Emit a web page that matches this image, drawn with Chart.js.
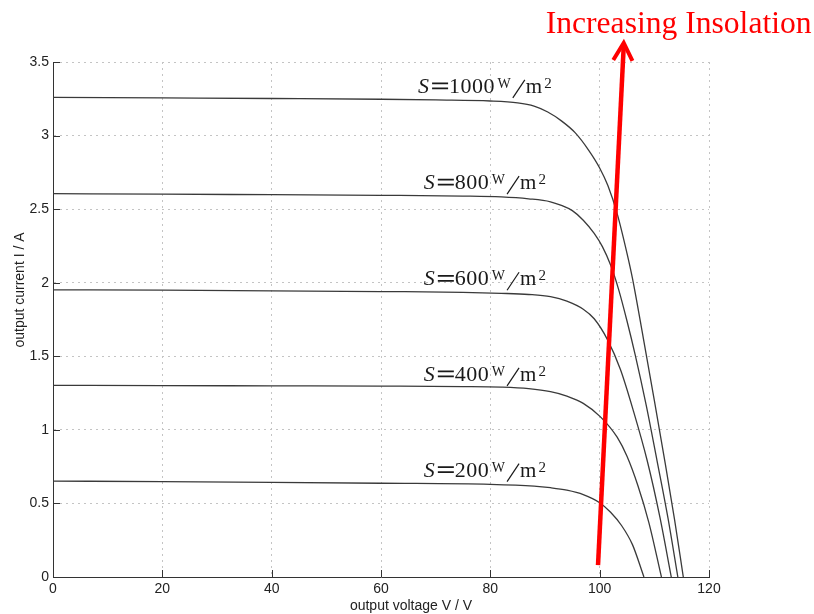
<!DOCTYPE html>
<html>
<head>
<meta charset="utf-8">
<script src="https://cdn.jsdelivr.net/npm/chart.js@4.4.1/dist/chart.umd.min.js"></script>
<style>
  html, body { margin:0; padding:0; background:#fff; }
  #wrap { width:814px; height:614px; }
</style>
</head>
<body>
<div id="wrap"><canvas id="ivChart" width="814" height="614"></canvas></div>
<script>
'use strict';

// irradiance levels, one curve each
const irradiance = [1000, 800, 600, 400, 200];

// voltage (V) / current (A) points
const v1000 = [0, 20, 40, 60, 70, 80, 85, 88, 90.5, 93, 95.5, 98, 100, 101.5, 103.2, 105, 106, 108, 110, 112, 113.7, 115.3];
const i1000 = [3.26, 3.256, 3.252, 3.247, 3.242, 3.235, 3.222, 3.2, 3.16, 3.1, 3.02, 2.9, 2.78, 2.66, 2.47, 2.2, 2.03, 1.62, 1.2, 0.77, 0.39, 0];

const v800 = [0, 20, 40, 60, 75, 82, 87, 91, 93, 95, 97, 99, 100.5, 102, 103.5, 105, 106.5, 108.5, 110.5, 112.5, 114.3];
const i800 = [2.605, 2.602, 2.598, 2.594, 2.589, 2.583, 2.57, 2.55, 2.525, 2.49, 2.425, 2.335, 2.245, 2.12, 1.95, 1.74, 1.51, 1.17, 0.79, 0.4, 0];

const v600 = [0, 20, 40, 60, 75, 82, 87, 91, 94, 97, 99, 101.4, 103.8, 106.2, 108.7, 111, 113.1];
const i600 = [1.952, 1.949, 1.945, 1.94, 1.935, 1.928, 1.92, 1.905, 1.875, 1.82, 1.755, 1.615, 1.41, 1.125, 0.79, 0.41, 0];

const v400 = [0, 20, 40, 60, 75, 82, 87, 91, 94, 97, 100.1, 103.2, 105, 107, 109, 111.3];
const i400 = [1.302, 1.301, 1.299, 1.297, 1.294, 1.29, 1.28, 1.26, 1.23, 1.18, 1.09, 0.95, 0.82, 0.62, 0.37, 0];

const v200 = [0, 20, 40, 60, 80, 88, 91, 94, 97, 100, 102, 104, 106, 108.1];
const i200 = [0.652, 0.648, 0.643, 0.637, 0.63, 0.618, 0.607, 0.59, 0.56, 0.505, 0.44, 0.35, 0.22, 0];

const voltages = [v1000, v800, v600, v400, v200];
const currents = [i1000, i800, i600, i400, i200];

// axis ticks
const xTickLabels = ['0', '20', '40', '60', '80', '100', '120'];
const yTickLabels = ['0', '0.5', '1', '1.5', '2', '2.5', '3', '3.5'];

// red arrow, in data units (V, A)
const arrowFrom = [99.7, 0.08];
const arrowTo = [104.4, 3.63];
const arrowText = 'Increasing Insolation';

const SANS = '"Liberation Sans", Arial, sans-serif';
const SERIF = '"Liberation Serif", "Times New Roman", serif';

const datasets = voltages.map((vs, k) => ({
  label: 'S=' + irradiance[k],
  data: vs.map((v, j) => ({ x: v, y: currents[k][j] })),
  borderColor: '#3a3a3a',
  borderWidth: 1.3,
  pointRadius: 0,
  cubicInterpolationMode: 'monotone',
  fill: false,
}));

// "S=1000 W/m2" in a LaTeX-ish look
function drawCurveLabel(ctx, cx, baseline, value) {
  const digits = String(value).split('');
  const F = (s, it) => (it ? 'italic ' : '') + s + 'px ' + SERIF;
  const pieces = [
    { t: 'S', f: F(22, true), dy: 0, gap: 2 },
    { eq: true, w: 17, gap: 1 },
  ];
  digits.forEach((d, i) => pieces.push({ t: d, f: F(22), dy: 0, gap: i < digits.length - 1 ? 0.5 : 3 }));
  pieces.push({ t: 'W', f: F(14), dy: -5, gap: 1 });
  pieces.push({ slash: true, w: 13, gap: 1 });
  pieces.push({ t: 'm', f: F(21), dy: 0, gap: 2 });
  pieces.push({ t: '2', f: F(15), dy: -5, gap: 0 });

  let total = 0;
  pieces.forEach(p => {
    if (p.t) { ctx.font = p.f; p.w = ctx.measureText(p.t).width; }
    total += p.w + p.gap;
  });
  let x = cx - total / 2;
  ctx.fillStyle = '#1a1a1a';
  ctx.strokeStyle = '#1a1a1a';
  ctx.textAlign = 'left';
  ctx.textBaseline = 'alphabetic';
  pieces.forEach(p => {
    if (p.slash) {
      ctx.lineWidth = 1.2;
      ctx.beginPath();
      ctx.moveTo(x + 1, baseline + 5);
      ctx.lineTo(x + p.w, baseline - 13);
      ctx.stroke();
    } else if (p.eq) {
      ctx.lineWidth = 1.7;
      ctx.beginPath();
      ctx.moveTo(x + 1, baseline - 9.5); ctx.lineTo(x + p.w, baseline - 9.5);
      ctx.moveTo(x + 1, baseline - 4.5); ctx.lineTo(x + p.w, baseline - 4.5);
      ctx.stroke();
    } else {
      ctx.font = p.f;
      ctx.fillText(p.t, x, baseline + p.dy);
    }
    x += p.w + p.gap;
  });
}

const decorations = {
  id: 'decorations',
  afterDraw(chart) {
    const { ctx, chartArea: ca, scales: { x, y } } = chart;
    ctx.save();

    // inward tick marks, MATLAB style
    ctx.strokeStyle = '#333';
    ctx.lineWidth = 1;
    ctx.beginPath();
    x.ticks.forEach(t => {
      const px = Math.round(x.getPixelForValue(t.value)) + 0.5;
      ctx.moveTo(px, ca.bottom); ctx.lineTo(px, ca.bottom - 7);
    });
    y.ticks.forEach(t => {
      const py = Math.round(y.getPixelForValue(t.value)) + 0.5;
      ctx.moveTo(ca.left, py); ctx.lineTo(ca.left + 7, py);
    });
    ctx.stroke();

    // curve labels
    irradiance.forEach((s, k) => {
      const base = y.getPixelForValue(currents[k][0]) - 4.5;
      drawCurveLabel(ctx, x.getPixelForValue(79), base, s);
    });

    // axis titles
    ctx.fillStyle = '#222';
    ctx.font = '14px ' + SANS;
    ctx.textAlign = 'center';
    ctx.textBaseline = 'middle';
    ctx.fillText('output voltage V / V', 411, 606);
    ctx.save();
    ctx.translate(20, 290);
    ctx.rotate(-Math.PI / 2);
    ctx.fillText('output current I / A', 0, 0);
    ctx.restore();

    // red arrow
    const x0 = x.getPixelForValue(arrowFrom[0]), y0 = y.getPixelForValue(arrowFrom[1]);
    const x1 = x.getPixelForValue(arrowTo[0]), y1 = y.getPixelForValue(arrowTo[1]);
    ctx.strokeStyle = '#ff0000';
    ctx.lineWidth = 4.5;
    ctx.lineCap = 'butt';
    ctx.beginPath();
    ctx.moveTo(x0, y0); ctx.lineTo(x1, y1 + 3);
    ctx.stroke();
    const ang = Math.atan2(y1 - y0, x1 - x0);
    ctx.lineWidth = 4;
    ctx.lineJoin = 'miter';
    ctx.beginPath();
    ctx.moveTo(x1 + 20 * Math.cos(ang + Math.PI - 0.5), y1 + 20 * Math.sin(ang + Math.PI - 0.5));
    ctx.lineTo(x1, y1);
    ctx.lineTo(x1 + 20 * Math.cos(ang + Math.PI + 0.5), y1 + 20 * Math.sin(ang + Math.PI + 0.5));
    ctx.stroke();

    ctx.fillStyle = '#ff0000';
    ctx.font = '31.6px ' + SERIF;
    ctx.textAlign = 'left';
    ctx.textBaseline = 'alphabetic';
    ctx.fillText(arrowText, x1 - 78, y1 - 10);

    ctx.restore();
  },
};

new Chart(document.getElementById('ivChart'), {
  type: 'line',
  data: { datasets },
  options: {
    responsive: false,
    devicePixelRatio: 1,
    animation: false,
    layout: { padding: { left: 0, top: 62, right: 105, bottom: 0 } },
    plugins: { legend: { display: false }, tooltip: { enabled: false } },
    scales: {
      x: {
        type: 'linear',
        min: 0, max: 120,
        afterFit(scale) { scale.height = 37; },
        ticks: {
          stepSize: 20,
          padding: 4,
          color: '#222',
          font: { family: SANS, size: 14 },
          callback: (v) => xTickLabels[Math.round(v / 20)] ?? '',
        },
        grid: { color: '#c4c4c4', lineWidth: 1, drawTicks: false },
        border: { display: true, color: '#333', width: 1, dash: [2, 4] },
      },
      y: {
        type: 'linear',
        min: 0, max: 3.5,
        afterFit(scale) { scale.width = 53; },
        ticks: {
          stepSize: 0.5,
          padding: 4,
          color: '#222',
          font: { family: SANS, size: 14 },
          callback: (v) => yTickLabels[Math.round(v / 0.5)] ?? '',
        },
        grid: { color: '#c4c4c4', lineWidth: 1, drawTicks: false },
        border: { display: true, color: '#333', width: 1, dash: [2, 4] },
      },
    },
  },
  plugins: [decorations],
});
</script>
</body>
</html>
